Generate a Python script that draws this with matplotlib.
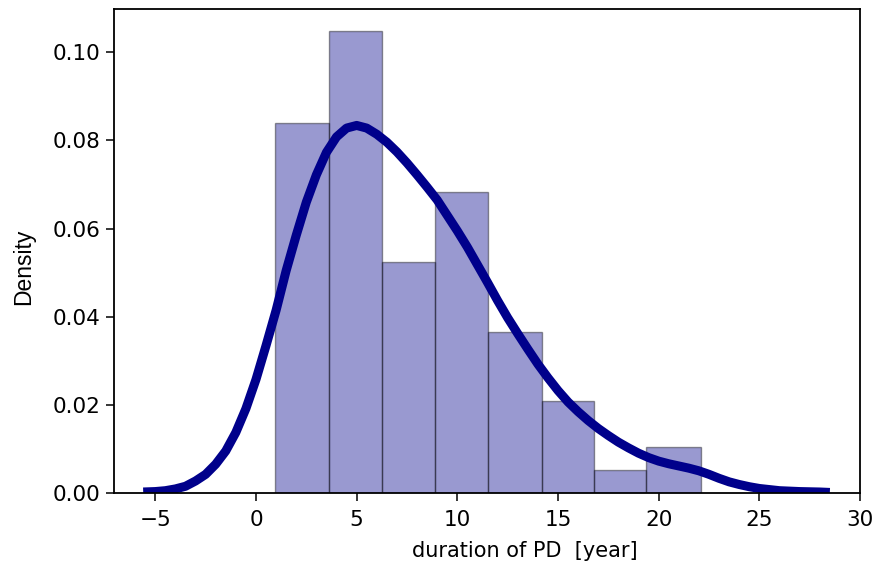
"""Histogram of PD duration with a KDE curve drawn over it."""

import matplotlib
matplotlib.use("Agg")
import matplotlib.pyplot as plt

# histogram bins (edges in years) and their densities
bin_edges = [0.95, 3.61, 6.27, 8.89, 11.53, 14.19, 16.79, 19.39, 22.11]
densities = [0.0839, 0.1049, 0.0525, 0.0682, 0.0366, 0.0210, 0.0054, 0.0106]

# KDE curve sampled from the chart
kde_x = [-5.6, -5.0, -4.5, -4.0, -3.5, -3.0, -2.5, -2.0, -1.5, -1.0, -0.5,
         0.0, 0.5, 1.0, 1.5, 2.0, 2.5, 3.0, 3.5, 4.0, 4.5, 5.0, 5.5, 6.0,
         6.5, 7.0, 7.5, 8.0, 8.5, 9.0, 9.5, 10.0, 10.5, 11.0, 11.5, 12.0,
         12.5, 13.0, 13.5, 14.0, 14.5, 15.0, 15.5, 16.0, 16.5, 17.0, 17.5,
         18.0, 18.5, 19.0, 19.5, 20.0, 20.5, 21.0, 21.5, 22.0, 22.5, 23.0,
         23.5, 24.0, 24.5, 25.0, 26.0, 27.0, 28.0, 28.5]
kde_y = [0.0003, 0.0004, 0.0006, 0.0010, 0.0016, 0.0028, 0.0043, 0.0066,
         0.0096, 0.0138, 0.0192, 0.0258, 0.0335, 0.0415, 0.0505, 0.0585,
         0.0660, 0.0722, 0.0773, 0.0808, 0.0828, 0.0834, 0.0828, 0.0814,
         0.0796, 0.0774, 0.0749, 0.0722, 0.0694, 0.0665, 0.0630, 0.0595,
         0.0558, 0.0518, 0.0478, 0.0437, 0.0398, 0.0362, 0.0327, 0.0293,
         0.0262, 0.0233, 0.0207, 0.0185, 0.0165, 0.0147, 0.0131, 0.0116,
         0.0103, 0.0091, 0.0081, 0.0073, 0.0067, 0.0062, 0.0057, 0.0051,
         0.0043, 0.0034, 0.0026, 0.0020, 0.0015, 0.0011, 0.0006, 0.0004,
         0.0003, 0.0002]

fig = plt.figure(figsize=(8.75, 5.62), dpi=100)
ax = fig.add_axes([0.1303, 0.1222, 0.8526, 0.8618])

widths = [b - a for a, b in zip(bin_edges[:-1], bin_edges[1:])]
ax.bar(bin_edges[:-1], densities, width=widths, align="edge",
       color="darkblue", edgecolor="black", linewidth=1.0, alpha=0.4)
ax.plot(kde_x, kde_y, color="darkblue", linewidth=6.5,
        solid_capstyle="butt", solid_joinstyle="round")

ax.set_xlim(-7.05, 30)
ax.set_ylim(0, 0.1098)
ax.set_xticks([-5, 0, 5, 10, 15, 20, 25, 30])
ax.set_yticks([0.0, 0.02, 0.04, 0.06, 0.08, 0.10])
ax.set_yticklabels(["0.00", "0.02", "0.04", "0.06", "0.08", "0.10"])
ax.tick_params(labelsize=15.5, length=6, width=1.1)
ax.tick_params(axis="x", pad=6)
for spine in ax.spines.values():
    spine.set_linewidth(1.3)
ax.set_xlabel("duration of PD  [year]", fontsize=15, labelpad=8)
ax.set_ylabel("Density", fontsize=16.5, family="Liberation Sans", labelpad=13)
# the labels in the original sit a little off the axis centre
ax.xaxis.label.set_x(0.551)
ax.yaxis.label.set_y(0.467)

fig.savefig("out.png", dpi=100)
